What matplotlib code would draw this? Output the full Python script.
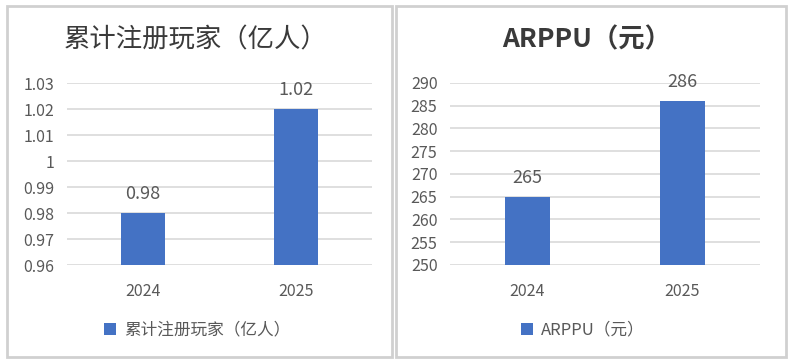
import matplotlib.pyplot as plt
from matplotlib.patches import Rectangle

plt.rcParams['font.family'] = ['Noto Sans CJK SC', 'DejaVu Sans']

# Data
years = ['2024', '2025']
players = [0.98, 1.02]          # 累计注册玩家（亿人）
arppu = [265, 286]              # ARPPU（元）

players_ticks = [0.96, 0.97, 0.98, 0.99, 1.00, 1.01, 1.02, 1.03]
players_ticklabels = ['0.96', '0.97', '0.98', '0.99', '1', '1.01', '1.02', '1.03']
arppu_ticks = [250, 255, 260, 265, 270, 275, 280, 285, 290]

bar_color = '#4472C4'
grid_color = '#d9d9d9'
text_color = '#595959'
title_color = '#3a3a3a'

W, H = 789, 363
fig = plt.figure(figsize=(W / 100, H / 100), dpi=100)
fig.patch.set_facecolor('white')


def px_axes(x0, x1, ytop, ybot):
    return fig.add_axes([x0 / W, 1 - ybot / H, (x1 - x0) / W, (ybot - ytop) / H])


# panel borders
for x0, x1 in [(7, 392), (396, 786)]:
    fig.patches.append(Rectangle((x0 / W, 6 / H), (x1 - x0) / W, (357 - 6) / H,
                                 transform=fig.transFigure, fill=False,
                                 edgecolor='#d0d0d0', linewidth=2))


def panel(ax, vals, ticks, ticklabels, ylim, fmt, title, title_weight, legend_label,
          title_x, legend_x):
    x = range(len(years))
    bars = ax.bar(x, vals, width=0.29, color=bar_color, zorder=3, label=legend_label)
    ax.set_xlim(-0.5, 1.5)
    ax.set_ylim(*ylim)
    ax.set_yticks(ticks)
    ax.set_yticklabels(ticklabels)
    ax.set_xticks(list(x))
    ax.set_xticklabels(years)
    ax.grid(axis='y', color=grid_color, linewidth=1.2, zorder=0)
    for s in ax.spines.values():
        s.set_visible(False)
    ax.tick_params(length=0, labelsize=11.5, colors=text_color)
    ax.tick_params(axis='y', pad=9)
    ax.tick_params(axis='x', pad=13)
    for b, v in zip(bars, vals):
        ax.annotate(fmt(v), (b.get_x() + b.get_width() / 2, v),
                    xytext=(0, 7), textcoords='offset points',
                    ha='center', va='bottom', fontsize=13, color=text_color)
    fig.text(title_x / W, 1 - 40 / H, title, ha='center', va='center',
             fontsize=19, color=title_color, fontweight=title_weight)
    ax.legend(loc='center', bbox_to_anchor=(legend_x / W, 1 - 330 / H),
              bbox_transform=fig.transFigure, frameon=False, fontsize=12,
              labelcolor=text_color, handlelength=0.7, handleheight=0.7,
              handletextpad=0.5)


ax1 = px_axes(67, 372, 83, 265)
panel(ax1, players, players_ticks, players_ticklabels, (0.96, 1.03),
      lambda v: f'{v:.2f}', '累计注册玩家（亿人）', 'medium', '累计注册玩家（亿人）',
      196, 197)

ax2 = px_axes(450, 760, 83, 265)
panel(ax2, arppu, arppu_ticks, [str(t) for t in arppu_ticks], (250, 290),
      lambda v: f'{v}', 'ARPPU（元）', 'bold', 'ARPPU（元）',
      587, 583)

fig.savefig('out.png', dpi=100)
